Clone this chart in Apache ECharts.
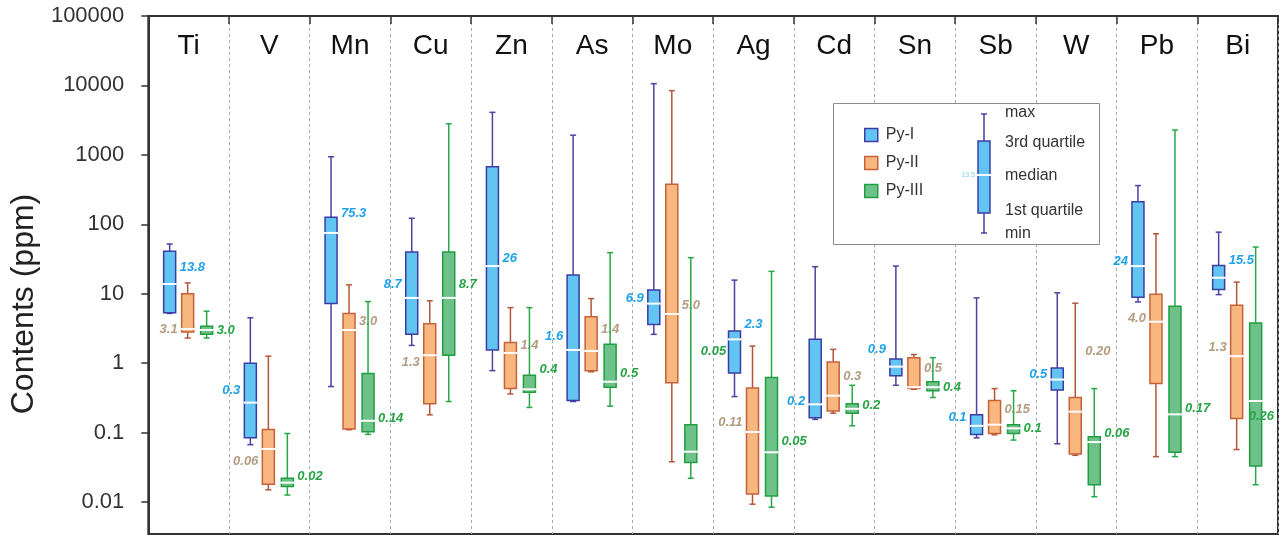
<!DOCTYPE html>
<html><head><meta charset="utf-8">
<script src="https://cdn.jsdelivr.net/npm/echarts@6/dist/echarts.min.js"></script>
<style>html,body{margin:0;padding:0;background:#fff}#c{width:1282px;height:538px}</style>
</head><body><div id="c"></div>
<script>
// ---------------- DATA ----------------
const categories = ['Ti','V','Mn','Cu','Zn','As','Mo','Ag','Cd','Sn','Sb','W','Pb','Bi'];
const seriesNames = ['Py-I','Py-II','Py-III'];
const yTickLabels = ['0.01','0.1','1','10','100','1000','10000','100000'];

// each row: [min, Q1, median, Q3, max] (ppm)
const pyI = [
  [5.2, 5.3, 13.8, 41, 52],
  [0.067, 0.084, 0.27, 1.0, 4.5],
  [0.46, 7.2, 75, 126, 940],
  [1.8, 2.6, 8.7, 40, 122],
  [0.78, 1.54, 25, 676, 4100],
  [0.28, 0.29, 1.55, 18.6, 1920],
  [2.6, 3.6, 7.2, 11.3, 10600],
  [0.33, 0.72, 2.2, 2.9, 15.7],
  [0.155, 0.164, 0.255, 2.2, 24.5],
  [0.48, 0.66, 0.89, 1.15, 25],
  [0.084, 0.094, 0.125, 0.18, 8.7],
  [0.069, 0.41, 0.58, 0.85, 10.3],
  [7.6, 8.9, 25, 211, 361],
  [9.7, 11.5, 17, 25.5, 77]
];
const pyII = [
  [2.3, 2.8, 3.1, 10, 14.3],
  [0.015, 0.018, 0.058, 0.111, 1.26],
  [0.11, 0.113, 3.0, 5.2, 13.4],
  [0.18, 0.26, 1.3, 3.7, 7.9],
  [0.36, 0.43, 1.4, 1.98, 6.3],
  [0.75, 0.78, 1.5, 4.65, 8.5],
  [0.038, 0.52, 5.1, 378, 8400],
  [0.0093, 0.013, 0.102, 0.44, 1.76],
  [0.19, 0.205, 0.34, 1.04, 1.58],
  [0.42, 0.43, 0.45, 1.2, 1.33],
  [0.093, 0.097, 0.13, 0.29, 0.43],
  [0.047, 0.049, 0.20, 0.32, 7.3],
  [0.045, 0.51, 3.95, 9.8, 73],
  [0.057, 0.159, 1.26, 6.8, 14.7]
];
const pyIII = [
  [2.3, 2.6, 3.0, 3.4, 5.6],
  [0.0126, 0.0167, 0.019, 0.022, 0.097],
  [0.094, 0.103, 0.148, 0.71, 7.7],
  [0.28, 1.3, 8.7, 40, 2800],
  [0.23, 0.38, 0.42, 0.67, 6.3],
  [0.24, 0.45, 0.54, 1.87, 39],
  [0.022, 0.037, 0.053, 0.13, 33],
  [0.0084, 0.0122, 0.052, 0.62, 21],
  [0.125, 0.19, 0.22, 0.26, 0.48],
  [0.32, 0.40, 0.45, 0.54, 1.2],
  [0.078, 0.097, 0.115, 0.13, 0.4],
  [0.0119, 0.0177, 0.073, 0.087, 0.43],
  [0.045, 0.052, 0.183, 6.6, 2280],
  [0.0177, 0.033, 0.285, 3.8, 47]
];
const pyILabels   = ['13.8','0.3','75.3','8.7','26','1.6','6.9','2.3','0.2','0.9','0.1','0.5','24','15.5'];
const pyIILabels  = ['3.1','0.06','3.0','1.3','1.4','1.4','5.0','0.11','0.3','0.5','0.15','0.20','4.0','1.3'];
const pyIIILabels = ['3.0','0.02','0.14','8.7','0.4','0.5','0.05','0.05','0.2','0.4','0.1','0.06','0.17','0.26'];

// ---------------- LAYOUT / STYLE ----------------
const SERIES_DATA = [pyI, pyII, pyIII];
const SERIES_LABELS = [pyILabels, pyIILabels, pyIIILabels];
const BOX_OFFSET = [-19, -1, 18];
const BOX_W = 12, CAP_W = 6;
const STYLES = [
  {fill:'#62c4f0', border:'#3b3ca6', whisker:'#4e3fa2', label:'#1ea3ea'},
  {fill:'#f7b77e', border:'#c6623a', whisker:'#b4553a', label:'#b39c80'},
  {fill:'#6dc189', border:'#1f9f40', whisker:'#27a848', label:'#26a446'}
];
const LABEL_LAYOUT = [
  {side:'RLRLRLLRLLLLLR', dy:[-17,-12,-20,-13,-8,-14,-5,-15,-3,-17,-8,-5,-5,-17],
   dx:[0,0,0,0,0,0,0,0,0,0,0,0,0,0]},
  {side:'LLRLRRRLRRRRLL', dy:[0,12,-9,7,-8,-21,-9,-10,-19,-19,-15,-60,-3,-9],
   dx:[0,0,0,0,0,0,0,0,0,0,0,0,0,0]},
  {side:'RRRRRRRRRRRRRR', dy:[0,-6,-2,-13,-20,-8,-100,-11,-3,0,0,-9,-6,15],
   dx:[0,0,0,0,0,0,0,0,0,0,0,0,0,-17]}
];
const FONT = '"Liberation Sans", Arial, Helvetica, sans-serif';

function makeRender(k) {
  const st = STYLES[k];
  return function (params, api) {
    const i = api.value(0);
    const pMin = api.coord([i, api.value(1)]);
    const pQ1 = api.coord([i, api.value(2)]);
    const pMed = api.coord([i, api.value(3)]);
    const pQ3 = api.coord([i, api.value(4)]);
    const pMax = api.coord([i, api.value(5)]);
    const x = pMin[0] + BOX_OFFSET[k];
    const hw = BOX_W / 2, cw = CAP_W / 2;
    const lay = LABEL_LAYOUT[k];
    const side = lay.side[i];
    const wStyle = {stroke: st.whisker, lineWidth: 1.5};
    return {
      type: 'group',
      children: [
        {type:'line', shape:{x1:x, y1:pQ3[1], x2:x, y2:pMax[1]}, style:wStyle},
        {type:'line', shape:{x1:x, y1:pQ1[1], x2:x, y2:pMin[1]}, style:wStyle},
        {type:'line', shape:{x1:x-cw, y1:pMax[1], x2:x+cw, y2:pMax[1]}, style:wStyle},
        {type:'line', shape:{x1:x-cw, y1:pMin[1], x2:x+cw, y2:pMin[1]}, style:wStyle},
        {type:'rect', shape:{x:x-hw, y:pQ3[1], width:BOX_W, height:Math.max(pQ1[1]-pQ3[1], 1)},
          style:{fill:st.fill, stroke:st.border, lineWidth:1.5}},
        {type:'line', shape:{x1:x-hw-1, y1:pMed[1], x2:x+hw+1, y2:pMed[1]},
          style:{stroke:'#ffffff', lineWidth:2}},
        {type:'text', x: (side === 'R' ? x + hw + 4 : x - hw - 4) + lay.dx[i], y: pMed[1] + lay.dy[i],
          style:{text: SERIES_LABELS[k][i], fill: st.label,
            font: 'italic bold 13px ' + FONT,
            align: side === 'R' ? 'left' : 'right', verticalAlign: 'middle'}}
      ]
    };
  };
}

const series = seriesNames.map((name, k) => ({
  name: name,
  type: 'custom',
  renderItem: makeRender(k),
  itemStyle: {color: STYLES[k].fill, borderColor: STYLES[k].border},
  encode: {x: 0, y: [1, 2, 3, 4, 5]},
  data: SERIES_DATA[k].map((d, i) => [i].concat(d)),
  z: 5
}));

// legend key glyph (explanatory)
const gx = 984;
const sample = [
  {type:'rect', left:833, top:103, shape:{x:0,y:0,width:266,height:141},
    style:{fill:'#fff', stroke:'#8a8a8a', lineWidth:1}, z:3},
  {type:'line', shape:{x1:gx,y1:114,x2:gx,y2:233}, style:{stroke:STYLES[0].whisker,lineWidth:1.5}, z:4},
  {type:'line', shape:{x1:gx-3,y1:114,x2:gx+3,y2:114}, style:{stroke:STYLES[0].whisker,lineWidth:1.5}, z:4},
  {type:'line', shape:{x1:gx-3,y1:233,x2:gx+3,y2:233}, style:{stroke:STYLES[0].whisker,lineWidth:1.5}, z:4},
  {type:'rect', shape:{x:gx-6,y:141,width:12,height:72}, style:{fill:STYLES[0].fill,stroke:STYLES[0].border,lineWidth:1.5}, z:4},
  {type:'line', shape:{x1:gx-7,y1:175,x2:gx+7,y2:175}, style:{stroke:'#fff',lineWidth:2}, z:4},
  {type:'text', x:975, y:175, style:{text:'13.5', fill:'#7fcff2', font:'7px ' + FONT, align:'right', verticalAlign:'middle'}, z:4}
];
const keyTexts = [['max',113],['3rd quartile',143],['median',176],['1st quartile',211],['min',234]];
keyTexts.forEach(t => sample.push({type:'text', x:1005, y:t[1],
  style:{text:t[0], fill:'#333', font:'16px ' + FONT, align:'left', verticalAlign:'middle'}, z:4}));

const chart = echarts.init(document.getElementById('c'), null, {renderer: 'canvas'});
chart.setOption({
  animation: false,
  backgroundColor: '#fff',
  grid: {left: 147, right: 4, top: 16, bottom: 4, show: true, borderColor: '#333', borderWidth: 2, backgroundColor: 'transparent'},
  xAxis: {
    type: 'category', data: categories, position: 'top',
    axisLine: {show: true, lineStyle: {color: '#333', width: 2}},
    axisTick: {show: true, inside: true, length: 8, interval: 0, lineStyle: {color: '#333', width: 1.5}},
    axisLabel: {inside: true, interval: 0, margin: 16, fontSize: 28, color: '#111', fontFamily: FONT},
    splitLine: {show: true, interval: 0, lineStyle: {color: '#a8a8a8', type: [3, 3], width: 1}}
  },
  yAxis: {
    type: 'log', logBase: 10, min: 0.00346, max: 100000,
    name: 'Contents (ppm)', nameLocation: 'middle', nameGap: 105,
    nameTextStyle: {fontSize: 32, color: '#222', fontFamily: FONT, padding: [0, 58, 0, 0]},
    axisLine: {show: true, lineStyle: {color: '#333', width: 2}},
    axisTick: {show: true, inside: false, length: 7, lineStyle: {color: '#333', width: 1.5}},
    axisLabel: {showMinLabel: false, margin: 24, fontSize: 22, color: '#333', fontFamily: FONT,
      formatter: function (v) {
        const e = Math.round(Math.log10(v));
        return yTickLabels[e + 2] !== undefined ? yTickLabels[e + 2] : '';
      }},
    splitLine: {show: false}
  },
  legend: {
    orient: 'vertical', left: 859, top: 122, itemWidth: 13, itemHeight: 13, itemGap: 12,
    textStyle: {fontSize: 16, color: '#333', fontFamily: FONT, padding: [0, 0, 0, 3]},
    data: seriesNames.map((n, k) => ({name: n, icon: 'rect',
      itemStyle: {color: STYLES[k].fill, borderColor: STYLES[k].border, borderWidth: 1.5}})),
    z: 6
  },
  graphic: {elements: sample},
  series: series
});
</script></body></html>
